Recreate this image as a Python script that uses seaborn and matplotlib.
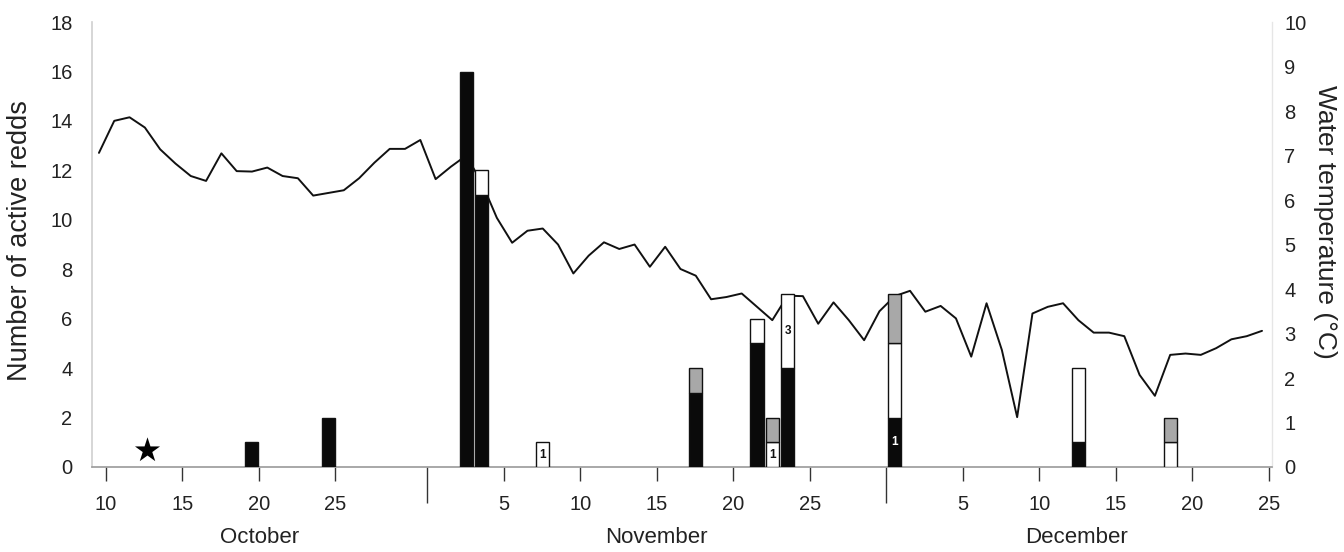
import numpy as np
import matplotlib
matplotlib.use("Agg")
import matplotlib.pyplot as plt
import seaborn as sns
import pandas as pd

# ---------------- data ----------------
# day numbers: October d -> d, November d -> 31 + d, December d -> 61 + d
temp_days = list(range(10, 87))
temp_values = [7.06, 7.78, 7.86, 7.63, 7.14, 6.82, 6.54, 6.43, 7.05, 6.65,
               6.64, 6.73, 6.54, 6.49, 6.10, 6.16, 6.22, 6.49, 6.84, 7.15,
               7.15, 7.35, 6.47, 6.75, 7.00, 6.40, 5.60, 5.04, 5.31, 5.36,
               5.00, 4.35, 4.75, 5.05, 4.90, 5.00, 4.50, 4.95, 4.45, 4.30,
               3.77, 3.82, 3.90, 3.60, 3.30, 3.85, 3.84, 3.22, 3.70, 3.30,
               2.85, 3.50, 3.84, 3.96, 3.49, 3.62, 3.34, 2.48, 3.68, 2.63,
               1.12, 3.45, 3.60, 3.68, 3.30, 3.02, 3.02, 2.94, 2.07, 1.60,
               2.52, 2.55, 2.52, 2.67, 2.87, 2.94, 3.06]

bar_days = [20, 25, 34, 35, 39, 49, 53, 54, 55, 62, 74, 80]
black_counts = [1, 2, 16, 11, 0, 3, 5, 0, 4, 2, 1, 0]
white_counts = [0, 0, 0, 1, 1, 0, 1, 1, 3, 3, 3, 1]
grey_counts = [0, 0, 0, 0, 0, 1, 0, 1, 0, 2, 0, 1]

# numbers written inside bar segments: (day, segment, text)
seg_label_days = [39, 54, 55, 62]
seg_label_parts = ["white", "white", "white", "black"]
seg_label_texts = ["1", "1", "3", "1"]

star_day = 13.15
star_count = 0.7

tick_days = [10, 15, 20, 25, 36, 41, 46, 51, 56, 66, 71, 76, 81, 86]
tick_labels = ["10", "15", "20", "25", "5", "10", "15", "20", "25",
               "5", "10", "15", "20", "25"]
month_break_days = [31, 61]
month_names = ["October", "November", "December"]
month_label_days = [20.5, 46.45, 73.85]

left_ticks = [0, 2, 4, 6, 8, 10, 12, 14, 16, 18]
right_ticks = [0, 1, 2, 3, 4, 5, 6, 7, 8, 9, 10]

# ---------------- style ----------------
sns.set_theme(style="white")
plt.rcParams["font.family"] = ["Liberation Sans", "DejaVu Sans"]

SHIFT = 0.45     # marks drawn centred just left of the day tick
BAR_W = 0.85
colors = {"black": "#0a0a0a", "white": "#ffffff", "grey": "#a8a8a8"}

fig = plt.figure(figsize=(13.44, 5.52), dpi=100)
ax = fig.add_axes([0.0685, 0.154, 0.8779, 0.806])
ax2 = ax.twinx()

# temperature line on the right axis (drawn underneath the bars)
df_t = pd.DataFrame({"pos": np.array(temp_days) - SHIFT, "temp": temp_values})
sns.lineplot(data=df_t, x="pos", y="temp", ax=ax2, color="#111111",
             linewidth=1.4, sort=False)
ax2.set_ylim(0, 10)
ax2.set_yticks(right_ticks)
ax2.set_yticklabels([str(t) for t in right_ticks], fontsize=14.5, color="#222222")
ax2.tick_params(axis="y", length=0, pad=9)
ax2.set_ylabel("Water temperature (°C)", rotation=270, fontsize=19,
               color="#222222", va="center", ha="center")
ax2.yaxis.set_label_coords(1.045, 0.55)
ax2.set_xlabel("")
for s in ["top", "left", "bottom"]:
    ax2.spines[s].set_visible(False)
ax2.spines["right"].set_color("#e6e6e6")
ax2.spines["right"].set_linewidth(1.0)

# bars on the left axis, above the line
ax.set_zorder(ax2.get_zorder() + 1)
ax.patch.set_visible(False)

pos = np.array(bar_days) - SHIFT
b = np.array(black_counts, float)
w = np.array(white_counts, float)
g = np.array(grey_counts, float)
bottoms = {"black": np.zeros_like(b), "white": b, "grey": b + w}
heights = {"black": b, "white": w, "grey": g}
for part in ["black", "white", "grey"]:
    h = heights[part]
    m = h > 0
    ax.bar(pos[m], h[m], bottom=bottoms[part][m], width=BAR_W,
           color=colors[part], edgecolor="#111111", linewidth=1.0, zorder=3)

for d, part, txt in zip(seg_label_days, seg_label_parts, seg_label_texts):
    i = bar_days.index(d)
    y = bottoms[part][i] + heights[part][i] / 2
    ax.text(d - SHIFT, y, txt, ha="center", va="center", fontsize=8.5,
            fontweight="bold", color="white" if part == "black" else "#111111",
            zorder=4)

sns.scatterplot(x=[star_day - SHIFT], y=[star_count], ax=ax, marker="*",
                s=360, color="black", edgecolor="black", linewidth=0, zorder=4)

ax.set_xlim(9.1, 86.2)
ax.set_ylim(0, 18)
ax.set_yticks(left_ticks)
ax.set_yticklabels([str(t) for t in left_ticks], fontsize=14.5, color="#222222")
ax.tick_params(axis="y", length=0, pad=14)
ax.set_ylabel("Number of active redds", fontsize=19.5, color="#222222")
ax.yaxis.set_label_coords(-0.05, 0.51)

ax.set_xticks(tick_days)
ax.set_xticklabels(tick_labels, fontsize=14.5, color="#222222")
ax.set_xticks(month_break_days, minor=True)
ax.tick_params(axis="x", which="major", direction="out", length=10, width=1.0,
               color="#333333", pad=10, bottom=True)
ax.tick_params(axis="x", which="minor", direction="out", length=26, width=1.0,
               color="#333333", bottom=True)
ax.set_xlabel("")

for name, d in zip(month_names, month_label_days):
    ax.annotate(name, xy=(d - SHIFT, 0), xycoords=("data", "axes fraction"),
                xytext=(0, -51), textcoords="offset points", ha="center",
                va="center", fontsize=16, color="#222222")

for s in ["top", "right"]:
    ax.spines[s].set_visible(False)
ax.spines["left"].set_color("#cfcfcf")
ax.spines["left"].set_linewidth(1.2)
ax.spines["bottom"].set_color("#9a9a9a")
ax.spines["bottom"].set_linewidth(1.2)

fig.savefig("out.png", dpi=100, facecolor="white")
